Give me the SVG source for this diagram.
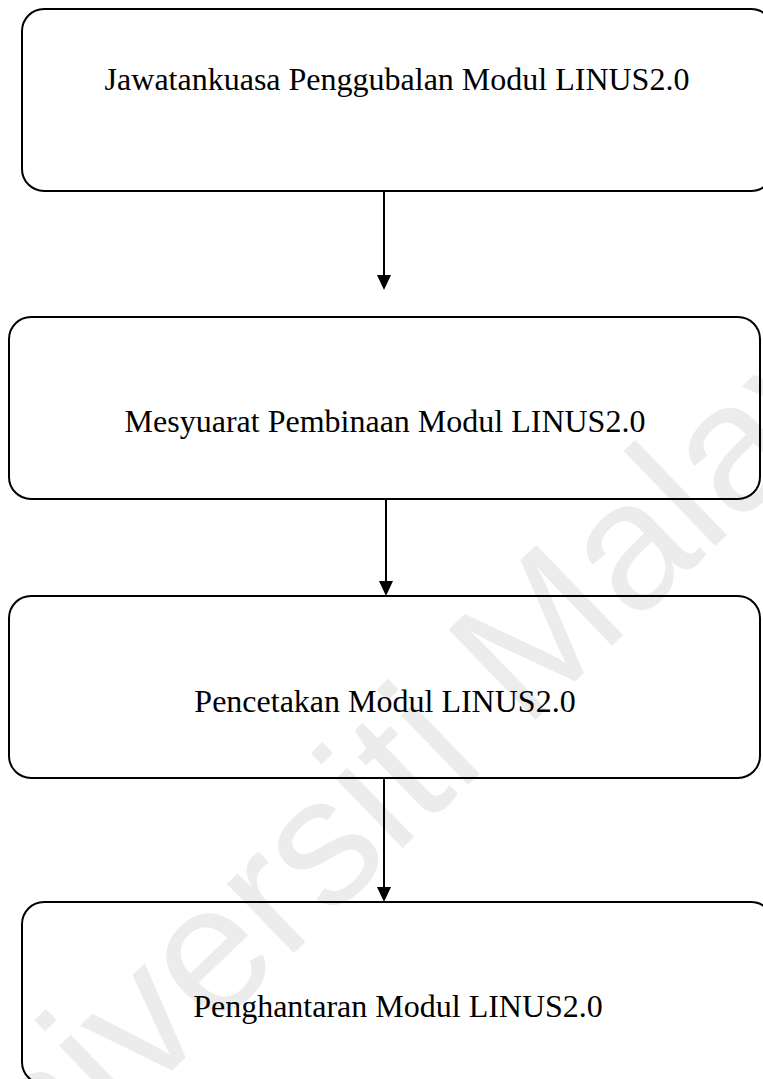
<svg xmlns="http://www.w3.org/2000/svg" width="763" height="1079" viewBox="0 0 763 1079">
<defs>
<style>
.box{fill:none;stroke:#000;stroke-width:2}
.lbl{font-family:"Liberation Serif","Times New Roman",serif;font-size:32px;fill:#000;text-anchor:middle}
.wm{font-family:"Liberation Sans",Arial,sans-serif;font-size:182px;fill:#ececec}
.conn{stroke:#000;stroke-width:2;fill:none}
.head{fill:#000}
</style>
</defs>
<rect width="763" height="1079" fill="#fff"/>
<text class="wm" transform="translate(-50,1285) rotate(-44)">Universiti Malaya</text>
<g id="connectors">
<line class="conn" x1="384" y1="191" x2="384" y2="276"/>
<path class="head" d="M377,275 L391,275 L384,290 Z"/>
<line class="conn" x1="386" y1="499" x2="386" y2="582"/>
<path class="head" d="M379,581 L393,581 L386,596 Z"/>
<line class="conn" x1="384" y1="778" x2="384" y2="888"/>
<path class="head" d="M377,887 L391,887 L384,902 Z"/>
</g>
<g id="node1">
<rect class="box" x="22" y="9" width="751" height="182" rx="22" ry="22"/>
<text class="lbl" x="397" y="90">Jawatankuasa Penggubalan Modul LINUS2.0</text>
</g>
<g id="node2">
<rect class="box" x="9" y="317" width="751" height="182" rx="22" ry="22"/>
<text class="lbl" x="385" y="432">Mesyuarat Pembinaan Modul LINUS2.0</text>
</g>
<g id="node3">
<rect class="box" x="9" y="596" width="751" height="182" rx="22" ry="22"/>
<text class="lbl" x="385" y="712">Pencetakan Modul LINUS2.0</text>
</g>
<g id="node4">
<rect class="box" x="22" y="902" width="751" height="182" rx="22" ry="22"/>
<text class="lbl" x="398" y="1017">Penghantaran Modul LINUS2.0</text>
</g>
</svg>
